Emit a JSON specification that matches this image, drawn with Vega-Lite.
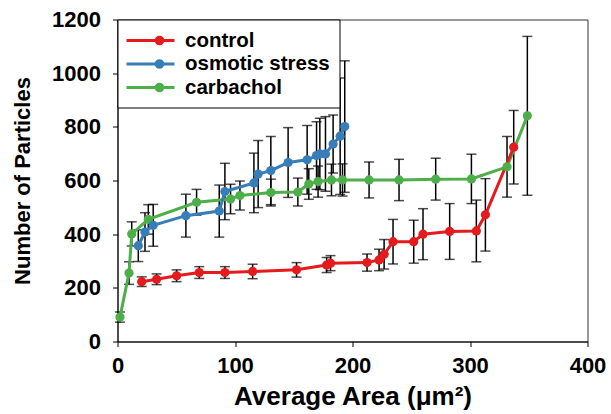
{
  "$schema": "https://vega.github.io/schema/vega-lite/v6.json",
  "width": 470,
  "height": 322,
  "autosize": "none",
  "padding": {"left": 117.5, "top": 19.5, "right": 23.5, "bottom": 72.5},
  "background": "white",
  "config": {
    "font": "Liberation Sans",
    "view": {"stroke": "#333333", "strokeWidth": 1},
    "axis": {
      "grid": false,
      "labelFlush": false,
      "domainColor": "black",
      "domainWidth": 1,
      "tickColor": "black",
      "tickSize": 5,
      "labelColor": "black",
      "labelFont": "Liberation Sans",
      "labelFontWeight": "bold",
      "labelFontSize": 22,
      "titleColor": "black",
      "titleFont": "Liberation Sans",
      "titleFontWeight": "bold"
    }
  },
  "data": {
    "values": [
      {"s": "carbachol", "x": 2.1, "y": 91, "e": 19},
      {"s": "carbachol", "x": 9.8, "y": 255, "e": 42},
      {"s": "carbachol", "x": 12.1, "y": 401, "e": 45},
      {"s": "carbachol", "x": 26.2, "y": 455, "e": 55},
      {"s": "carbachol", "x": 67.3, "y": 519, "e": 48},
      {"s": "carbachol", "x": 96.2, "y": 531, "e": 55},
      {"s": "carbachol", "x": 104.2, "y": 544, "e": 54},
      {"s": "carbachol", "x": 130.5, "y": 555, "e": 50},
      {"s": "carbachol", "x": 153.5, "y": 557, "e": 52},
      {"s": "carbachol", "x": 162.8, "y": 587, "e": 57},
      {"s": "carbachol", "x": 170.7, "y": 596, "e": 58},
      {"s": "carbachol", "x": 182.1, "y": 602, "e": 59},
      {"s": "carbachol", "x": 191.5, "y": 602, "e": 60},
      {"s": "carbachol", "x": 214.1, "y": 602, "e": 67},
      {"s": "carbachol", "x": 239.6, "y": 602, "e": 77},
      {"s": "carbachol", "x": 270.8, "y": 605, "e": 78},
      {"s": "carbachol", "x": 301.2, "y": 606, "e": 92},
      {"s": "carbachol", "x": 331.5, "y": 651, "e": 113},
      {"s": "carbachol", "x": 348.8, "y": 841, "e": 296},
      {"s": "osmotic stress", "x": 17.7, "y": 357, "e": 59},
      {"s": "osmotic stress", "x": 23.4, "y": 408, "e": 72},
      {"s": "osmotic stress", "x": 30.4, "y": 433, "e": 78},
      {"s": "osmotic stress", "x": 58.2, "y": 469, "e": 80},
      {"s": "osmotic stress", "x": 86.6, "y": 486, "e": 97},
      {"s": "osmotic stress", "x": 91.4, "y": 559, "e": 105},
      {"s": "osmotic stress", "x": 116.1, "y": 591, "e": 111},
      {"s": "osmotic stress", "x": 119.7, "y": 624, "e": 125},
      {"s": "osmotic stress", "x": 130.5, "y": 637, "e": 127},
      {"s": "osmotic stress", "x": 145.2, "y": 667, "e": 130},
      {"s": "osmotic stress", "x": 161.4, "y": 677, "e": 128},
      {"s": "osmotic stress", "x": 169.4, "y": 693, "e": 126},
      {"s": "osmotic stress", "x": 172.2, "y": 699, "e": 133},
      {"s": "osmotic stress", "x": 177.0, "y": 699, "e": 139},
      {"s": "osmotic stress", "x": 183.5, "y": 736, "e": 108},
      {"s": "osmotic stress", "x": 189.5, "y": 765, "e": 217},
      {"s": "osmotic stress", "x": 193.4, "y": 801, "e": 245},
      {"s": "control", "x": 20.6, "y": 223, "e": 18},
      {"s": "control", "x": 33.3, "y": 232, "e": 20},
      {"s": "control", "x": 50.3, "y": 245, "e": 22},
      {"s": "control", "x": 69.6, "y": 257, "e": 22},
      {"s": "control", "x": 91.4, "y": 257, "e": 22},
      {"s": "control", "x": 115.0, "y": 261, "e": 27},
      {"s": "control", "x": 152.4, "y": 267, "e": 27},
      {"s": "control", "x": 178.0, "y": 285, "e": 28},
      {"s": "control", "x": 181.3, "y": 292, "e": 28},
      {"s": "control", "x": 212.4, "y": 294, "e": 32},
      {"s": "control", "x": 222.6, "y": 304, "e": 40},
      {"s": "control", "x": 226.9, "y": 325, "e": 55},
      {"s": "control", "x": 234.5, "y": 372, "e": 83},
      {"s": "control", "x": 252.1, "y": 372, "e": 80},
      {"s": "control", "x": 260.0, "y": 400, "e": 95},
      {"s": "control", "x": 282.7, "y": 410, "e": 104},
      {"s": "control", "x": 305.4, "y": 412, "e": 115},
      {"s": "control", "x": 313.1, "y": 472, "e": 135},
      {"s": "control", "x": 337.2, "y": 724, "e": 137}
    ]
  },
  "encoding": {
    "x": {
      "field": "x",
      "type": "quantitative",
      "scale": {"domain": [0, 400], "nice": false, "zero": false, "padding": 0},
      "axis": {
        "values": [0, 100, 200, 300, 400],
        "format": "d",
        "title": "Average Area (μm²)",
        "titleFontSize": 26,
        "titlePadding": 7,
        "labelPadding": 9
      }
    },
    "y": {
      "field": "y",
      "type": "quantitative",
      "scale": {"domain": [0, 1200], "nice": false, "padding": 0},
      "axis": {
        "values": [0, 200, 400, 600, 800, 1000, 1200],
        "format": "d",
        "title": "Number of Particles",
        "titleFontSize": 22,
        "titlePadding": 17,
        "labelPadding": 12
      }
    }
  },
  "layer": [
    {
      "mark": {"type": "errorbar", "ticks": true, "size": 10, "thickness": 1.5, "color": "black"},
      "encoding": {
        "yError": {"field": "e"},
        "detail": {"field": "s"}
      }
    },
    {
      "mark": {"type": "line", "strokeWidth": 3, "point": {"filled": true, "size": 85, "opacity": 1}},
      "encoding": {
        "color": {
          "field": "s",
          "type": "nominal",
          "scale": {
            "domain": ["control", "osmotic stress", "carbachol"],
            "range": ["#E41A1C", "#377EB8", "#4DAF4A"]
          },
          "legend": {
            "orient": "none",
            "legendX": 0,
            "legendY": 0,
            "title": null,
            "strokeColor": "black",
            "fillColor": "white",
            "padding": 9.5,
            "rowPadding": 1.5,
            "labelFontSize": 20.5,
            "labelFontWeight": "bold",
            "labelColor": "black",
            "labelFont": "Liberation Sans",
            "symbolType": "M-1.2,0H3.6M2.43,0A0.33,0.33,0,1,1,1.77,0A0.33,0.33,0,1,1,2.43,0Z",
            "symbolSize": 400,
            "symbolStrokeWidth": 3,
            "labelOffset": 35,
            "encode": {"symbols": {"update": {"fill": {"scale": "color", "field": "value"}}}}
          }
        }
      }
    }
  ]
}
